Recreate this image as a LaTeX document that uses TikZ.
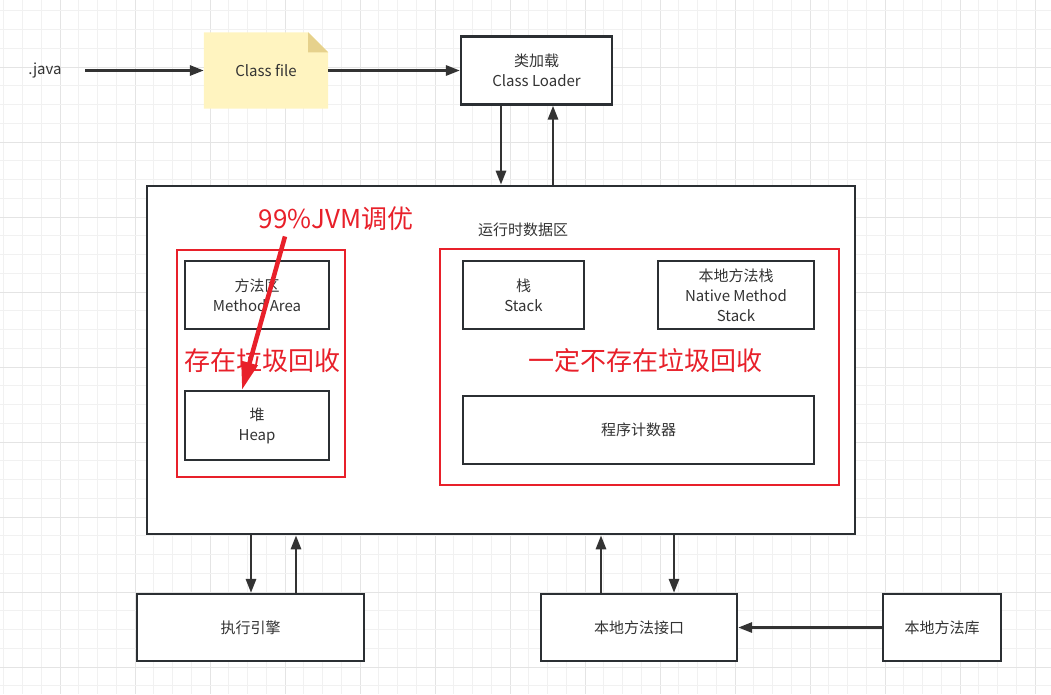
\documentclass[tikz,border=0pt]{standalone}
\usepackage{fontspec}
\setmainfont{Noto Sans CJK SC}
\usepackage{tikz}
\usetikzlibrary{positioning, arrows.meta, calc}
\usepackage{xcolor}
\definecolor{txtgray}{HTML}{333333}
\definecolor{boxline}{HTML}{2B2F33}
\definecolor{gcred}{HTML}{E8202A}
\definecolor{noteyellow}{HTML}{FFF4C0}
\definecolor{notefold}{HTML}{E6D18C}
\definecolor{gridminor}{HTML}{F1F1F1}
\definecolor{gridmajor}{HTML}{E4E4E4}

\tikzset{
  lbl/.style={text=txtgray, font=\fontsize{15}{20}\selectfont, align=center},
  blk/.style={lbl, rectangle, draw=boxline, line width=2.2pt, fill=white, inner sep=0pt},
  redbox/.style={rectangle, draw=gcred, line width=1.5pt, inner sep=0pt},
  redtxt/.style={text=gcred, font=\fontsize{26}{30}\selectfont},
  arr/.style={-{Triangle[length=14pt, width=10pt]}, line width=2.8pt, draw=txtgray},
  redarr/.style={-{Triangle[length=28pt, width=16pt]}, line width=4.5pt, draw=gcred}
}

\begin{document}
\begin{tikzpicture}[x=1pt, y=-1pt]
\useasboundingbox (0,0) rectangle (1051,694);

% Background grid
\foreach \k in {0,...,56} {
  \pgfmathtruncatemacro{\m}{mod(\k,4)}
  \ifnum\m=3 \def\gc{gridmajor}\else \def\gc{gridminor}\fi
  \draw[\gc, line width=1pt] (3.75+\k*18.75,0) -- (3.75+\k*18.75,694);
}
\foreach \k in {0,...,37} {
  \pgfmathtruncatemacro{\m}{mod(\k,4)}
  \ifnum\m=3 \def\gc{gridmajor}\else \def\gc{gridminor}\fi
  \draw[\gc, line width=1pt] (0,10.75+\k*18.75) -- (1051,10.75+\k*18.75);
}

% Source and class file
\node[lbl] (java) at (45,70.5) {.java};
\node[lbl, minimum width=124, minimum height=76, inner sep=0pt] (cls) at (266,70.5) {};
\fill[noteyellow] (cls.north west) -- ([xshift=-20]cls.north east) -- ([yshift=-20]cls.north east) -- (cls.south east) -- (cls.south west) -- cycle;
\fill[notefold] ([xshift=-20]cls.north east) -- ([xshift=-20,yshift=-20]cls.north east) -- ([yshift=-20]cls.north east) -- cycle;
\node[lbl] at (cls) {Class file};

% Class loader
\node[blk, minimum width=151, minimum height=68] (loader) at (536.5,70.5) {类加载\\Class Loader};

% Runtime data area
\node[blk, minimum width=708, minimum height=348, line width=2.6pt] (jvm) at (501,360) {};
\node[lbl] (rtlabel) at (523,230) {运行时数据区};

% Shared areas
\node[redbox, minimum width=168, minimum height=227] (shared) at (261,363.5) {};
\node[blk, minimum width=144, minimum height=68] (method) at (257,295) {方法区\\Method Area};
\node[blk, minimum width=144, minimum height=69] (heap) at (257,425.5) {堆\\Heap};
\node[redtxt] (gcyes) at (262,361) {存在垃圾回收};

% Thread private areas
\node[redbox, minimum width=399, minimum height=236] (private) at (639.5,367) {};
\node[blk, minimum width=121, minimum height=68] (stack) at (523.5,295) {栈\\Stack};
\node[blk, minimum width=156, minimum height=68] (native) at (736,295) {本地方法栈\\Native Method\\Stack};
\node[redtxt] (gcno) at (645,361) {一定不存在垃圾回收};
\node[blk, minimum width=351, minimum height=68] (pc) at (638.5,430) {程序计数器};

% Bottom row
\node[blk, minimum width=227, minimum height=67] (engine) at (250.5,627.5) {执行引擎};
\node[blk, minimum width=196, minimum height=67] (nif) at (639,627.5) {本地方法接口};
\node[blk, minimum width=118, minimum height=67] (nlib) at (942,627.5) {本地方法库};

% Connectors
\draw[arr] ([xshift=20]java.east) -- (cls.west);
\draw[arr] (cls.east) -- (loader.west);
\draw[arr] ([xshift=-35.5]loader.south) -- ([xshift=-35.5]loader.south |- jvm.north);
\draw[arr] ([xshift=16.5]loader.south |- jvm.north) -- ([xshift=16.5]loader.south);
\draw[arr] ([xshift=0.5]engine.north |- jvm.south) -- ([xshift=0.5]engine.north);
\draw[arr] ([xshift=45.5]engine.north) -- ([xshift=45.5]engine.north |- jvm.south);
\draw[arr] ([xshift=-38]nif.north) -- ([xshift=-38]nif.north |- jvm.south);
\draw[arr] ([xshift=35]nif.north |- jvm.south) -- ([xshift=35]nif.north);
\draw[arr] (nlib.west) -- (nif.east);

% Tuning note
\node[redtxt] (tune) at (336,219) {99\%JVM调优};
\draw[redarr] ([xshift=-51,yshift=-2]tune.south) -- ([xshift=-15]heap.north);
\end{tikzpicture}
\end{document}
